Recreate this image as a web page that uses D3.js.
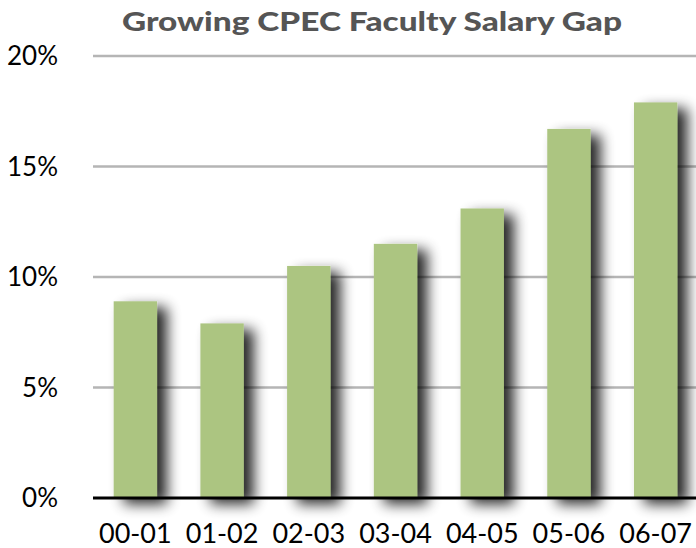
<!DOCTYPE html>
<html>
<head>
<meta charset="utf-8">
<script src="https://cdn.jsdelivr.net/npm/d3@7"></script>
<style>
  body { margin: 0; background: #fff; }
  text { font-family: Lato, "Open Sans", sans-serif; }
</style>
</head>
<body>
<script>
var categories = ["00-01", "01-02", "02-03", "03-04", "04-05", "05-06", "06-07"];
var salaryGap  = [8.9, 7.9, 10.5, 11.5, 13.1, 16.7, 17.9];
var yTicks     = [0, 5, 10, 15, 20];
var chartTitle = "Growing CPEC Faculty Salary Gap";

var w = 696,
    h = 548;

var svg = d3.select("body")
  .append("svg")
  .attr("width", w)
  .attr("height", h);

var xScale = d3.scaleBand()
  .domain(categories)
  .range([92, 699])
  .paddingInner(0.5)
  .paddingOuter(0.25);

var yScale = d3.scaleLinear()
  .domain([0, 20])
  .range([498, 56]);

// soft drop shadow behind the bars
var filter = svg.append("defs").append("filter")
  .attr("id", "shadow")
  .attr("x", "-50%").attr("y", "-20%")
  .attr("width", "250%").attr("height", "140%");
filter.append("feGaussianBlur")
  .attr("in", "SourceAlpha")
  .attr("stdDeviation", 7)
  .attr("result", "blur");
filter.append("feOffset")
  .attr("in", "blur")
  .attr("dx", 10).attr("dy", 6)
  .attr("result", "off");
filter.append("feComponentTransfer")
  .attr("in", "off")
  .attr("result", "dark")
  .append("feFuncA").attr("type", "linear").attr("slope", 0.85);
var merge = filter.append("feMerge");
merge.append("feMergeNode").attr("in", "dark");
merge.append("feMergeNode").attr("in", "SourceGraphic");

// gridlines
svg.append("g")
  .selectAll("line")
  .data(yTicks.filter(function (d) { return d > 0; }))
  .enter()
  .append("line")
  .attr("x1", 93).attr("x2", w)
  .attr("y1", function (d) { return yScale(d); })
  .attr("y2", function (d) { return yScale(d); })
  .attr("stroke", "#b5b5b5")
  .attr("stroke-width", 2.5);

// y labels
svg.append("g")
  .selectAll("text")
  .data(yTicks)
  .enter()
  .append("text")
  .attr("x", 58)
  .attr("y", function (d) { return yScale(d); })
  .attr("dy", "0.36em")
  .attr("text-anchor", "end")
  .attr("font-size", 26)
  .attr("fill", "#000")
  .text(function (d) { return d + "%"; });

// bars
svg.append("g")
  .selectAll("rect")
  .data(salaryGap)
  .enter()
  .append("rect")
  .attr("x", function (d, i) { return xScale(categories[i]); })
  .attr("y", function (d) { return yScale(d); })
  .attr("width", xScale.bandwidth())
  .attr("height", function (d) { return yScale(0) - yScale(d); })
  .attr("fill", "#acc581")
  .attr("filter", "url(#shadow)");

// baseline
svg.append("line")
  .attr("x1", 93).attr("x2", w)
  .attr("y1", yScale(0)).attr("y2", yScale(0))
  .attr("stroke", "#000")
  .attr("stroke-width", 3);

// x labels
svg.append("g")
  .selectAll("text")
  .data(categories)
  .enter()
  .append("text")
  .attr("x", function (d) { return xScale(d) + xScale.bandwidth() / 2; })
  .attr("y", 543)
  .attr("text-anchor", "middle")
  .attr("font-size", 27)
  .attr("fill", "#000")
  .text(function (d) { return d; });

// title
svg.append("text")
  .attr("x", 372)
  .attr("y", 31)
  .attr("text-anchor", "middle")
  .attr("font-size", 26)
  .attr("font-weight", 900)
  .attr("textLength", 500)
  .attr("lengthAdjust", "spacingAndGlyphs")
  .attr("fill", "#555")
  .text(chartTitle);
</script>
</body>
</html>
